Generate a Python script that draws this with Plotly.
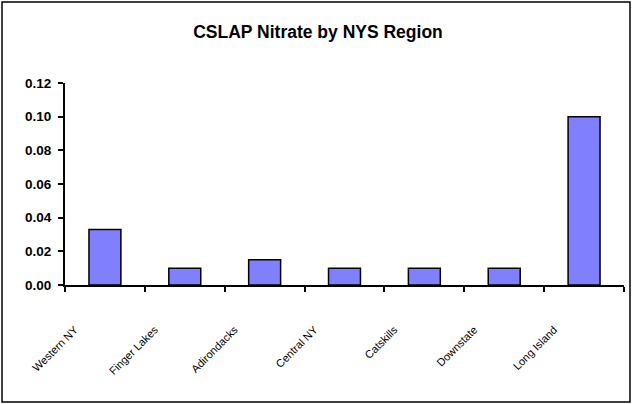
import plotly.graph_objects as go

regions = ["Western NY", "Finger Lakes", "Adirondacks", "Central NY", "Catskills", "Downstate", "Long Island"]
nitrate = [0.033, 0.010, 0.015, 0.010, 0.010, 0.010, 0.100]
y_ticks = [0.00, 0.02, 0.04, 0.06, 0.08, 0.10, 0.12]
y_tick_labels = ["0.00", "0.02", "0.04", "0.06", "0.08", "0.10", "0.12"]

W, H = 632, 404
ml, mr, mt, mb = 65, 8, 83, 119
pw, ph = W - ml - mr, H - mt - mb

fig = go.Figure(go.Bar(
    x=regions, y=nitrate,
    marker=dict(color="#8080FF", line=dict(color="black", width=1.5)),
    width=0.4,
))

font = "Liberation Sans, Arial, sans-serif"
fig.update_layout(
    width=W, height=H,
    margin=dict(l=ml, r=mr, t=mt, b=mb, autoexpand=False),
    paper_bgcolor="white", plot_bgcolor="white",
    showlegend=False,
    title=dict(text="<b>CSLAP Nitrate by NYS Region</b>", x=318 / W, xref="container", xanchor="center",
               y=1 - 32 / H, yanchor="middle",
               font=dict(family=font, size=17.5, color="black")),
    font=dict(family=font, color="black"),
)
fig.update_xaxes(
    showline=True, linecolor="black", linewidth=2,
    ticks="outside", tickson="boundaries", ticklen=5, tickwidth=1.5, tickcolor="black",
    tickangle=-45, tickfont=dict(family=font, size=11, color="black"),
    ticklabelshift=-30, ticklabelstandoff=32,
    showgrid=False, zeroline=False, automargin=False,
)
fig.update_yaxes(
    range=[0, 0.12], tickvals=y_ticks, ticktext=[f"<b>{t}</b>" for t in y_tick_labels],
    showline=True, linecolor="black", linewidth=2,
    ticks="outside", ticklen=5, tickwidth=1.5, tickcolor="black",
    tickfont=dict(family=font, size=13.5, color="black"),
    ticklabelstandoff=4,
    showgrid=False, zeroline=False, automargin=False,
)
# outer chart border
fig.add_shape(type="rect", xref="paper", yref="paper",
              x0=(2 - ml) / pw, x1=(W - 2 - ml) / pw,
              y0=-(H - 2 - mt - ph) / ph, y1=1 + (mt - 2) / ph,
              line=dict(color="black", width=1.5), fillcolor="rgba(0,0,0,0)", layer="below")

fig.write_html("out.html", config={"displayModeBar": False},
               post_script="document.body.style.margin='0';document.body.style.overflow='hidden';")
